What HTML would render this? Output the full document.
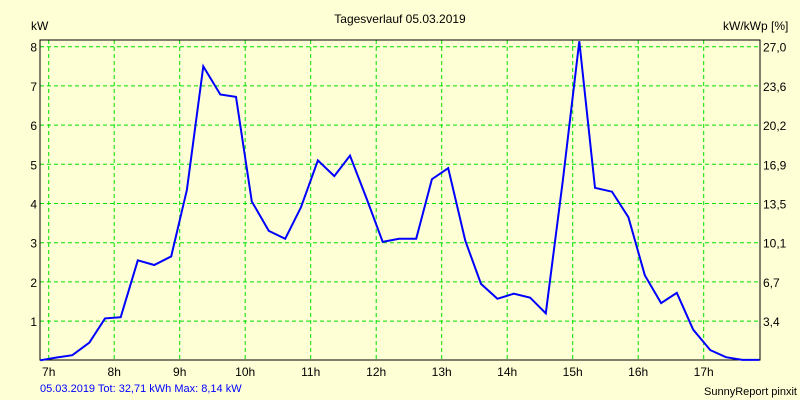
<!DOCTYPE html>
<html><head><meta charset="utf-8"><style>
body{margin:0;background:#ffffd5;}
svg{display:block;font-family:"Liberation Sans",sans-serif;}
</style></head><body>
<svg id="c" width="800" height="400">
<rect width="800" height="400" fill="#ffffd5"/>
<text x="400" y="23" text-anchor="middle" font-size="12" fill="#000">Tagesverlauf 05.03.2019</text>
<text x="31" y="30" font-size="12">kW</text>
<text x="723" y="30" font-size="12">kW/kWp [%]</text>
<g id="grid"></g>
<rect x="40" y="40" width="720" height="320" fill="none" stroke="#000" stroke-width="1"/>
<g id="axes"></g>
<polyline id="line" fill="none" stroke="#0000ff" stroke-width="2"/>
<text x="40" y="392" font-size="11" fill="#0000ff">05.03.2019 Tot: 32,71 kWh Max: 8,14 kW</text>
<text x="797" y="395" text-anchor="end" font-size="11" fill="#000">SunnyReport pinxit</text>
</svg>
<script>
const hours=[6.87,7.11,7.36,7.62,7.86,8.10,8.36,8.61,8.87,9.11,9.36,9.62,9.86,10.10,10.36,10.61,10.85,11.11,11.36,11.60,11.86,12.10,12.35,12.61,12.85,13.10,13.36,13.60,13.85,14.10,14.35,14.59,14.85,15.10,15.34,15.60,15.85,16.10,16.35,16.59,16.84,17.10,17.34,17.59,17.85];
const power=[0,0.07,0.13,0.45,1.07,1.1,2.55,2.43,2.65,4.35,7.5,6.78,6.72,4.05,3.3,3.1,3.9,5.1,4.7,5.22,4.1,3.02,3.1,3.1,4.62,4.9,3.05,1.95,1.57,1.7,1.6,1.2,4.6,8.14,4.4,4.3,3.65,2.17,1.46,1.72,0.78,0.26,0.08,0.01,0.01];
const xTicks=[7,8,9,10,11,12,13,14,15,16,17];
const yTicks=[1,2,3,4,5,6,7,8];
const rightTicks=["3,4","6,7","10,1","13,5","16,9","20,2","23,6","27,0"];
const NS="http://www.w3.org/2000/svg";
function xs(h){return 48.7+(h-7)*65.5;}
function ys(v){return 360.3-v*39.2;}
const grid=document.getElementById('grid'),axes=document.getElementById('axes');
function mk(tag,attrs,parent){const e=document.createElementNS(NS,tag);for(const k in attrs)e.setAttribute(k,attrs[k]);parent.appendChild(e);return e;}
xTicks.forEach(h=>{
  const l=mk('line',{x1:xs(h),x2:xs(h),y1:40,y2:360,stroke:'#00e000','stroke-dasharray':'4,3'},grid);
  
  
  const t=mk('text',{x:xs(h),y:376,'text-anchor':'middle','font-size':'12'},axes);
  t.textContent=h+'h';
  
  
});
yTicks.forEach((v,i)=>{
  const l=mk('line',{x1:40,x2:760,y1:ys(v),y2:ys(v),stroke:'#00e000','stroke-dasharray':'4,3'},grid);
  
  
  const t=mk('text',{x:37,y:ys(v)+5,'text-anchor':'end','font-size':'12'},axes);
  t.textContent=v;
  
  
  const r=mk('text',{x:763,y:ys(v)+5,'font-size':'12'},axes);
  r.textContent=rightTicks[i];
  
  
});
document.getElementById('line').setAttribute('points',hours.map((h,i)=>xs(h).toFixed(1)+','+ys(power[i]).toFixed(1)).join(' '));
</script>
</body></html>
